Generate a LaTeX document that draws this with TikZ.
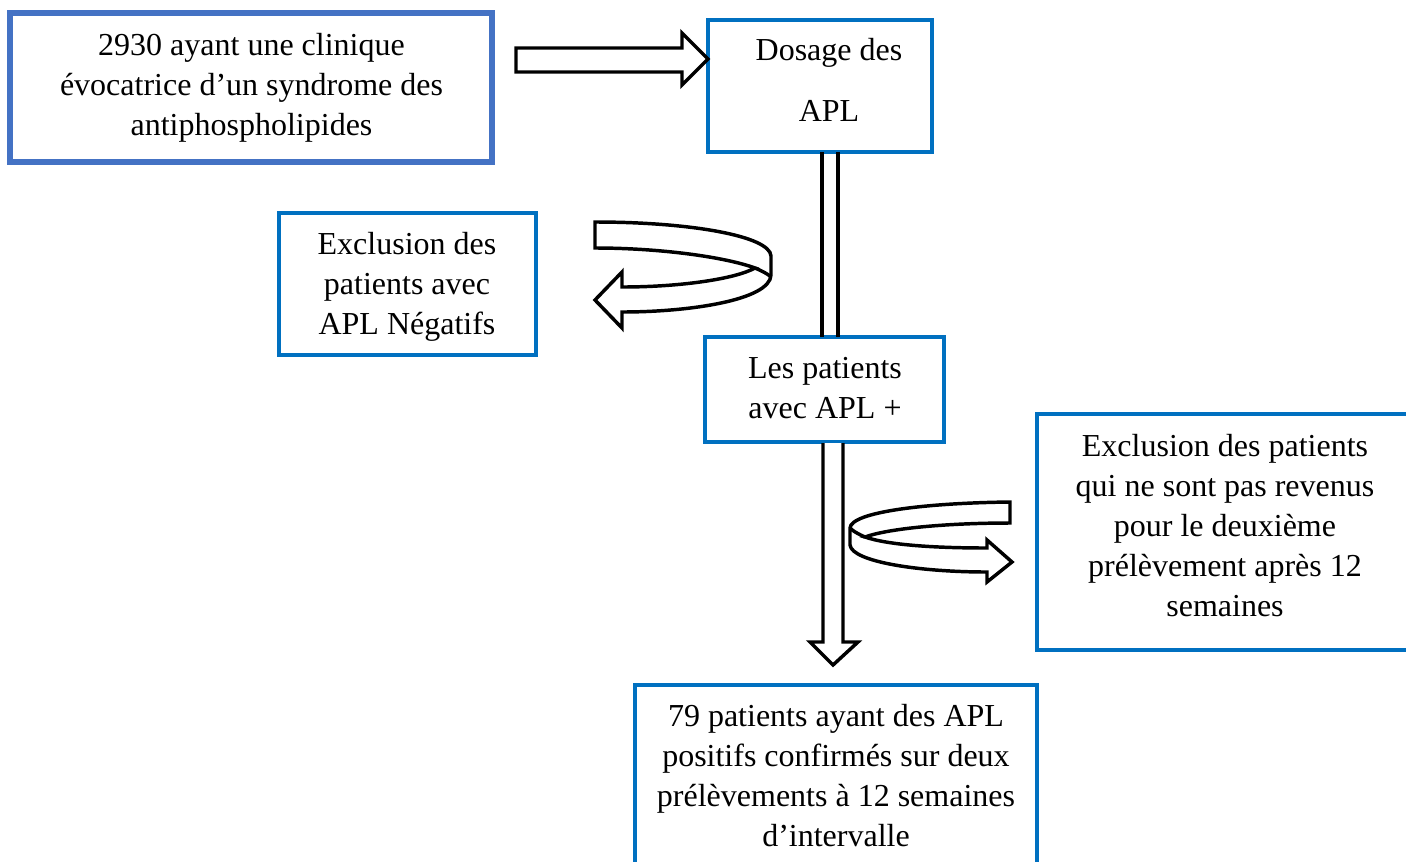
\documentclass[tikz,border=0pt]{standalone}
\usepackage{fontspec}
\setmainfont{Liberation Serif}
\definecolor{boxblueA}{HTML}{4472C4}
\definecolor{boxblueB}{HTML}{0070C0}
\begin{document}
\begin{tikzpicture}[x=0.75pt,y=-0.75pt,
  boxA/.style={draw=boxblueA,line width=3.9pt,fill=white,inner sep=0pt,outer sep=0pt},
  boxB/.style={draw=boxblueB,line width=2.4pt,fill=white,inner sep=0pt,outer sep=0pt},
  txt/.style={align=center,inner sep=0pt,font=\fontsize{24}{30}\selectfont},
  blockarrow/.style={draw=black,fill=white,line width=2.6pt,line join=miter},
  shaft/.style={draw=black,line width=2.8pt}]
\useasboundingbox (0,0) rectangle (1406,861);
\clip (0,0) rectangle (1406,861);
% boxes
\node[boxA,minimum width=361.5pt,minimum height=111.75pt] (b1) at (251,87.5) {};
\node[boxB,minimum width=168pt,minimum height=99pt] (b2) at (820,86) {};
\node[boxB,minimum width=192.75pt,minimum height=106.5pt] (b3) at (407.5,284) {};
\node[boxB,minimum width=179.25pt,minimum height=78.75pt] (b4) at (824.5,389.5) {};
\node[boxB,minimum width=287.25pt,minimum height=177pt] (b5) at (1228.5,532) {};
\node[boxB,minimum width=301.5pt,minimum height=153.75pt] (b6) at (836,787.5) {};
% texts
\node[txt] (t1) at (251.5,88) {2930 ayant une clinique\\évocatrice d’un syndrome des\\antiphospholipides};
\node[txt] (t2) at (829,80) {Dosage des\\[15.75pt]APL};
\node[txt] (t3) at (407,286.5) {Exclusion des\\patients avec\\APL Négatifs};
\node[txt] (t4) at (825,388.5) {Les patients\\avec APL +};
\node[txt] (t5) at (1225,526) {Exclusion des patients\\qui ne sont pas revenus\\pour le deuxième\\prélèvement après 12\\semaines};
\node[txt] (t6) at (836,776) {79 patients ayant des APL\\positifs confirmés sur deux\\prélèvements à 12 semaines\\d’intervalle};
% right block arrow b1 -> b2
\draw[blockarrow] (516,48) -- (682,48) -- (682,33) -- (b2.west |- 0,59) -- (682,85) -- (682,72) -- (516,72) -- cycle;
% shaft b2 -> b4
\draw[shaft] (822,152) -- (822,337);
\draw[shaft] (838,152) -- (838,337);
% arrow b4 -> b6
\draw[blockarrow] (823,443) -- (823,642) -- (810,642) -- (833,665) -- (858,642) -- (843,642) -- (843,443);
% curved arrow to b3
\draw[blockarrow] (595,222) .. controls (690,222) and (770,236) .. (771,256)
  -- (771,275) .. controls (770,300) and (690,312) .. (622,312)
  -- (622,328) -- (595,300) -- (622,272) -- (622,287)
  .. controls (680,287) and (735,279) .. (755,268)
  .. controls (725,257) and (660,248) .. (595,248) -- cycle;
\draw[black,line width=2.6pt] (755,268) .. controls (762,271) and (768,274) .. (771,277);
% curved arrow to b5
\draw[blockarrow] (1010,502) .. controls (925,503) and (851,512) .. (850,528)
  -- (850,545) .. controls (852,562) and (920,572) .. (987,572)
  -- (987,582) -- (1012,562) -- (987,540) -- (987,548)
  .. controls (935,548) and (888,545) .. (865,537)
  .. controls (890,528) and (950,523) .. (1010,523) -- cycle;
\draw[black,line width=2.6pt] (865,537) .. controls (858,534) and (853,531) .. (850,528);
\end{tikzpicture}
\end{document}
